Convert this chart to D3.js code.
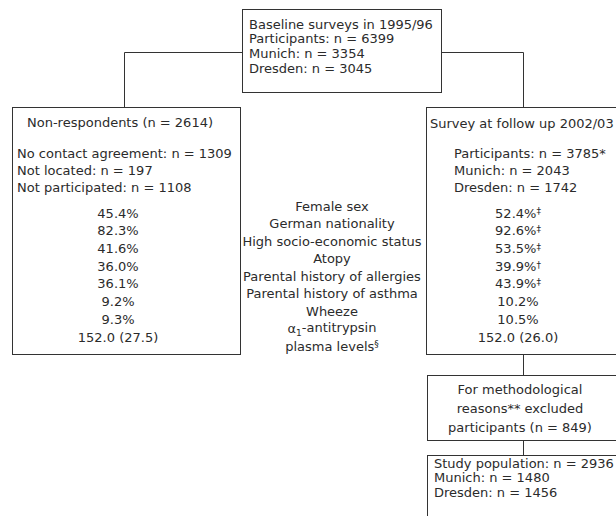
<!DOCTYPE html>
<html><head><meta charset="utf-8">
<script src="https://cdn.jsdelivr.net/npm/d3@7"></script>
<style>body{margin:0;background:#fff}svg{display:block}text{font-family:"DejaVu Sans",sans-serif;font-size:13px;fill:#2b2b2b}</style>
</head><body><svg id="c" width="616" height="516"></svg>
<script>
const variables = ["Female sex","German nationality","High socio-economic status","Atopy","Parental history of allergies","Parental history of asthma","Wheeze","α1-antitrypsin plasma levels§"];
const nonRespValues = ["45.4%","82.3%","41.6%","36.0%","36.1%","9.2%","9.3%","152.0 (27.5)"];
const followValues = ["52.4%","92.6%","53.5%","39.9%","43.9%","10.2%","10.5%","152.0 (26.0)"];
const followMarks = ["‡","‡","‡","†","‡","","",""];
const baselineLines = ["Baseline surveys in 1995/96","Participants: n = 6399","Munich: n = 3354","Dresden: n = 3045"];
const nonRespHeader = ["No contact agreement: n = 1309","Not located: n = 197","Not participated: n = 1108"];
const followHeader = ["Participants: n = 3785*","Munich: n = 2043","Dresden: n = 1742"];
const excludedLines = ["For methodological","reasons** excluded","participants (n = 849)"];
const studyLines = ["Study population: n = 2936","Munich: n = 1480","Dresden: n = 1456"];

const svg = d3.select("#c");
const stroke = "#333";
const row = d3.scaleLinear().domain([0, 7]).range([213, 337]);

function box(x, y, w, h) {
  svg.append("rect").attr("x", x + .5).attr("y", y + .5).attr("width", w).attr("height", h)
    .attr("fill", "none").attr("stroke", stroke).attr("stroke-width", 1);
}
function line(pts) {
  svg.append("path").attr("d", d3.line()(pts.map(p => [p[0] + .5, p[1] + .5])))
    .attr("fill", "none").attr("stroke", stroke).attr("stroke-width", 1);
}
function txt(x, y, s, anchor) {
  return svg.append("text").attr("x", x).attr("y", y).attr("dy", "0.35em")
    .attr("text-anchor", anchor || "start").text(s);
}

// connectors
line([[242, 52], [124, 52], [124, 107]]);
line([[441, 52], [523, 52], [523, 107]]);
line([[523, 354], [523, 375]]);
line([[523, 440], [523, 455]]);

// boxes
box(242, 9, 199, 83);
box(12, 107, 228, 247);
box(426, 107, 200, 247);
box(427, 375, 200, 65);
box(427, 455, 200, 70);

// baseline text
const bl = d3.scaleLinear().domain([0, 3]).range([24, 68]);
baselineLines.forEach((s, i) => txt(249, bl(i), s));

// non-respondents
txt(27, 122, "Non-respondents (n = 2614)");
const hl = d3.scaleLinear().domain([0, 2]).range([153, 187]);
nonRespHeader.forEach((s, i) => txt(17, hl(i), s));
nonRespValues.forEach((s, i) => txt(118, row(i), s, "middle"));

// follow-up
txt(430, 123, "Survey at follow up 2002/03");
followHeader.forEach((s, i) => txt(454, hl(i), s));
followValues.forEach((s, i) => {
  const t = txt(518, row(i), null, "middle");
  t.append("tspan").text(s);
  if (followMarks[i]) t.append("tspan").attr("dy", "-0.35em").style("font-size", "9px").text(followMarks[i]);
});

// middle labels
const lab = d3.scaleLinear().domain([0, 8]).range([206, 346]);
variables.forEach((s, i) => {
  if (i < 7) { txt(332, lab(i), s, "middle"); return; }
  const t1 = txt(332, lab(7), null, "middle");
  t1.append("tspan").text("α");
  t1.append("tspan").attr("dy", "0.3em").style("font-size", "9px").text("1");
  t1.append("tspan").attr("dy", "-0.3em").text("-antitrypsin");
  const t2 = txt(332, lab(8), null, "middle");
  t2.append("tspan").text("plasma levels");
  t2.append("tspan").attr("dy", "-0.4em").style("font-size", "9px").text("§");
});

// excluded
const el = d3.scaleLinear().domain([0, 2]).range([389, 427]);
excludedLines.forEach((s, i) => txt(520, el(i), s, "middle"));

// study population
const sl = d3.scaleLinear().domain([0, 2]).range([463, 492]);
studyLines.forEach((s, i) => txt(434, sl(i), s));
</script></body></html>
